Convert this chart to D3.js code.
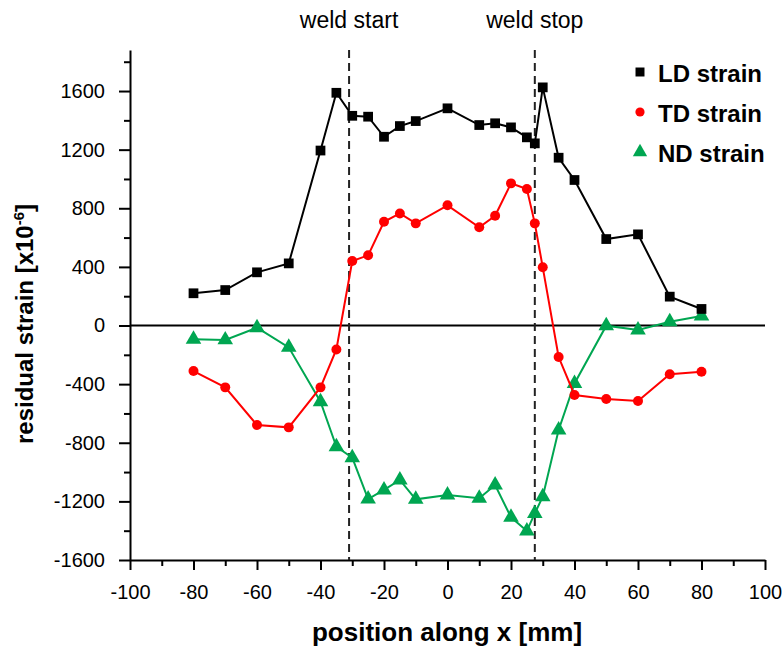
<!DOCTYPE html>
<html>
<head>
<meta charset="utf-8">
<script src="https://cdn.jsdelivr.net/npm/d3@7"></script>
<style>
  html, body { margin: 0; padding: 0; background: #fff; }
  svg { display: block; font-family: Arial, "Liberation Sans", sans-serif; }
</style>
</head>
<body>
<svg id="chart" width="784" height="652"></svg>
<script>
// Measurement positions along x [mm]
const positions = [-80, -70, -60, -50, -40, -35, -30, -25, -20, -15, -10, 0, 10, 15, 20, 25, 27.5, 30, 35, 40, 50, 60, 70, 80];

// Residual strain [x10^-6] for each direction
const ldStrain = [220, 242, 363, 424, 1194, 1588, 1431, 1425, 1288, 1361, 1395, 1482, 1368, 1380, 1352, 1284, 1243, 1625, 1145, 993, 590, 622, 197, 113];
const tdStrain = [-311, -422, -679, -695, -422, -163, 440, 479, 708, 765, 697, 820, 670, 749, 970, 931, 697, 397, -215, -474, -501, -515, -333, -315];
const ndStrain = [-94, -98, -15, -149, -520, -827, -902, -1184, -1122, -1054, -1186, -1157, -1179, -1088, -1309, -1402, -1282, -1168, -713, -395, -1, -31, 26, 65];

// Weld start / stop markers
const weldMarks = [
  { label: "weld start", x: -31 },
  { label: "weld stop", x: 27.5 }
];

// Axis ticks
const xMajorTicks = [-100, -80, -60, -40, -20, 0, 20, 40, 60, 80, 100];
const xMinorTicks = [-90, -70, -50, -30, -10, 10, 30, 50, 70, 90];
const yMajorTicks = [-1600, -1200, -800, -400, 0, 400, 800, 1200, 1600];
const yMinorTicks = [-1400, -1000, -600, -200, 200, 600, 1000, 1400, 1800];

const seriesList = [
  { name: "ND strain", values: ndStrain, color: "#00a651", symbol: d3.symbolTriangle, size: 105 },
  { name: "TD strain", values: tdStrain, color: "#ff0000", symbol: d3.symbolCircle, size: 78 },
  { name: "LD strain", values: ldStrain, color: "#000000", symbol: d3.symbolSquare, size: 95 }
];
const legendOrder = ["LD strain", "TD strain", "ND strain"];

const svg = d3.select("#chart");

const x = d3.scaleLinear().domain([-100, 100]).range([130, 765]);
const y = d3.scaleLinear().domain([-1600, 1880]).range([560, 50]);

const signed = d => d < 0 ? "-" + Math.abs(d) : String(d);

// Minor ticks
svg.append("g")
  .attr("transform", `translate(0,${y(-1600)})`)
  .call(d3.axisBottom(x).tickValues(xMinorTicks).tickSize(6).tickSizeOuter(0).tickFormat(""))
  .call(g => g.select(".domain").remove())
  .call(g => g.selectAll("line").attr("stroke", "#000").attr("stroke-width", 2));

svg.append("g")
  .attr("transform", `translate(${x(-100)},0)`)
  .call(d3.axisLeft(y).tickValues(yMinorTicks).tickSize(6).tickSizeOuter(0).tickFormat(""))
  .call(g => g.select(".domain").remove())
  .call(g => g.selectAll("line").attr("stroke", "#000").attr("stroke-width", 2));

// Major axes
const xAxis = svg.append("g")
  .attr("transform", `translate(0,${y(-1600)})`)
  .call(d3.axisBottom(x).tickValues(xMajorTicks).tickSize(10).tickSizeOuter(0).tickPadding(15).tickFormat(signed));
xAxis.select(".domain").attr("stroke", "#000").attr("stroke-width", 2);
xAxis.selectAll("line").attr("stroke", "#000").attr("stroke-width", 2);
xAxis.selectAll("text").attr("font-size", 20).attr("fill", "#000")
  .attr("font-family", "Arial, 'Liberation Sans', sans-serif");

const yAxis = svg.append("g")
  .attr("transform", `translate(${x(-100)},0)`)
  .call(d3.axisLeft(y).tickValues(yMajorTicks).tickSize(11).tickSizeOuter(0).tickPadding(14).tickFormat(signed));
yAxis.select(".domain").attr("stroke", "#000").attr("stroke-width", 2);
yAxis.selectAll("line").attr("stroke", "#000").attr("stroke-width", 2);
yAxis.selectAll("text").attr("font-size", 20).attr("fill", "#000")
  .attr("font-family", "Arial, 'Liberation Sans', sans-serif");

// Zero line
svg.append("line")
  .attr("x1", x(-100)).attr("x2", x(100))
  .attr("y1", y(0)).attr("y2", y(0))
  .attr("stroke", "#000").attr("stroke-width", 2);

// Weld start / stop dashed lines with labels
weldMarks.forEach(m => {
  svg.append("line")
    .attr("x1", x(m.x)).attr("x2", x(m.x))
    .attr("y1", y(1880)).attr("y2", y(-1600))
    .attr("stroke", "#222").attr("stroke-width", 2)
    .attr("stroke-dasharray", "8,5");
  svg.append("text")
    .attr("x", x(m.x)).attr("y", 28)
    .attr("text-anchor", "middle")
    .attr("font-size", 23)
    .attr("fill", "#000")
    .text(m.label);
});

// Series lines and markers
seriesList.forEach(s => {
  const pts = positions.map((p, i) => [p, s.values[i]]);
  svg.append("path")
    .datum(pts)
    .attr("fill", "none")
    .attr("stroke", s.color)
    .attr("stroke-width", 2)
    .attr("d", d3.line().x(d => x(d[0])).y(d => y(d[1])));
  svg.append("g").selectAll("path")
    .data(pts)
    .join("path")
    .attr("transform", d => `translate(${x(d[0])},${y(d[1])})`)
    .attr("d", d3.symbol().type(s.symbol).size(s.size))
    .attr("fill", s.color);
});

// Legend
const legend = svg.append("g");
legendOrder.forEach((name, i) => {
  const s = seriesList.find(d => d.name === name);
  const cy = 72 + i * 40;
  legend.append("path")
    .attr("transform", `translate(640,${cy})`)
    .attr("d", d3.symbol().type(s.symbol).size(s.size * 0.85))
    .attr("fill", s.color);
  legend.append("text")
    .attr("x", 658).attr("y", cy + 10)
    .attr("font-size", 24)
    .attr("font-weight", "bold")
    .attr("fill", "#000")
    .text(name);
});

// Axis titles
svg.append("text")
  .attr("x", 447).attr("y", 641)
  .attr("text-anchor", "middle")
  .attr("font-size", 26)
  .attr("font-weight", "bold")
  .attr("fill", "#000")
  .text("position along x [mm]");

const yTitle = svg.append("text")
  .attr("transform", "translate(33,324) rotate(-90)")
  .attr("text-anchor", "middle")
  .attr("font-size", 24)
  .attr("font-weight", "bold")
  .attr("fill", "#000");
yTitle.append("tspan").text("residual strain  [x10");
yTitle.append("tspan").attr("dy", -9).attr("font-size", 15).text("-6");
yTitle.append("tspan").attr("dy", 9).text("]");
</script>
</body>
</html>
